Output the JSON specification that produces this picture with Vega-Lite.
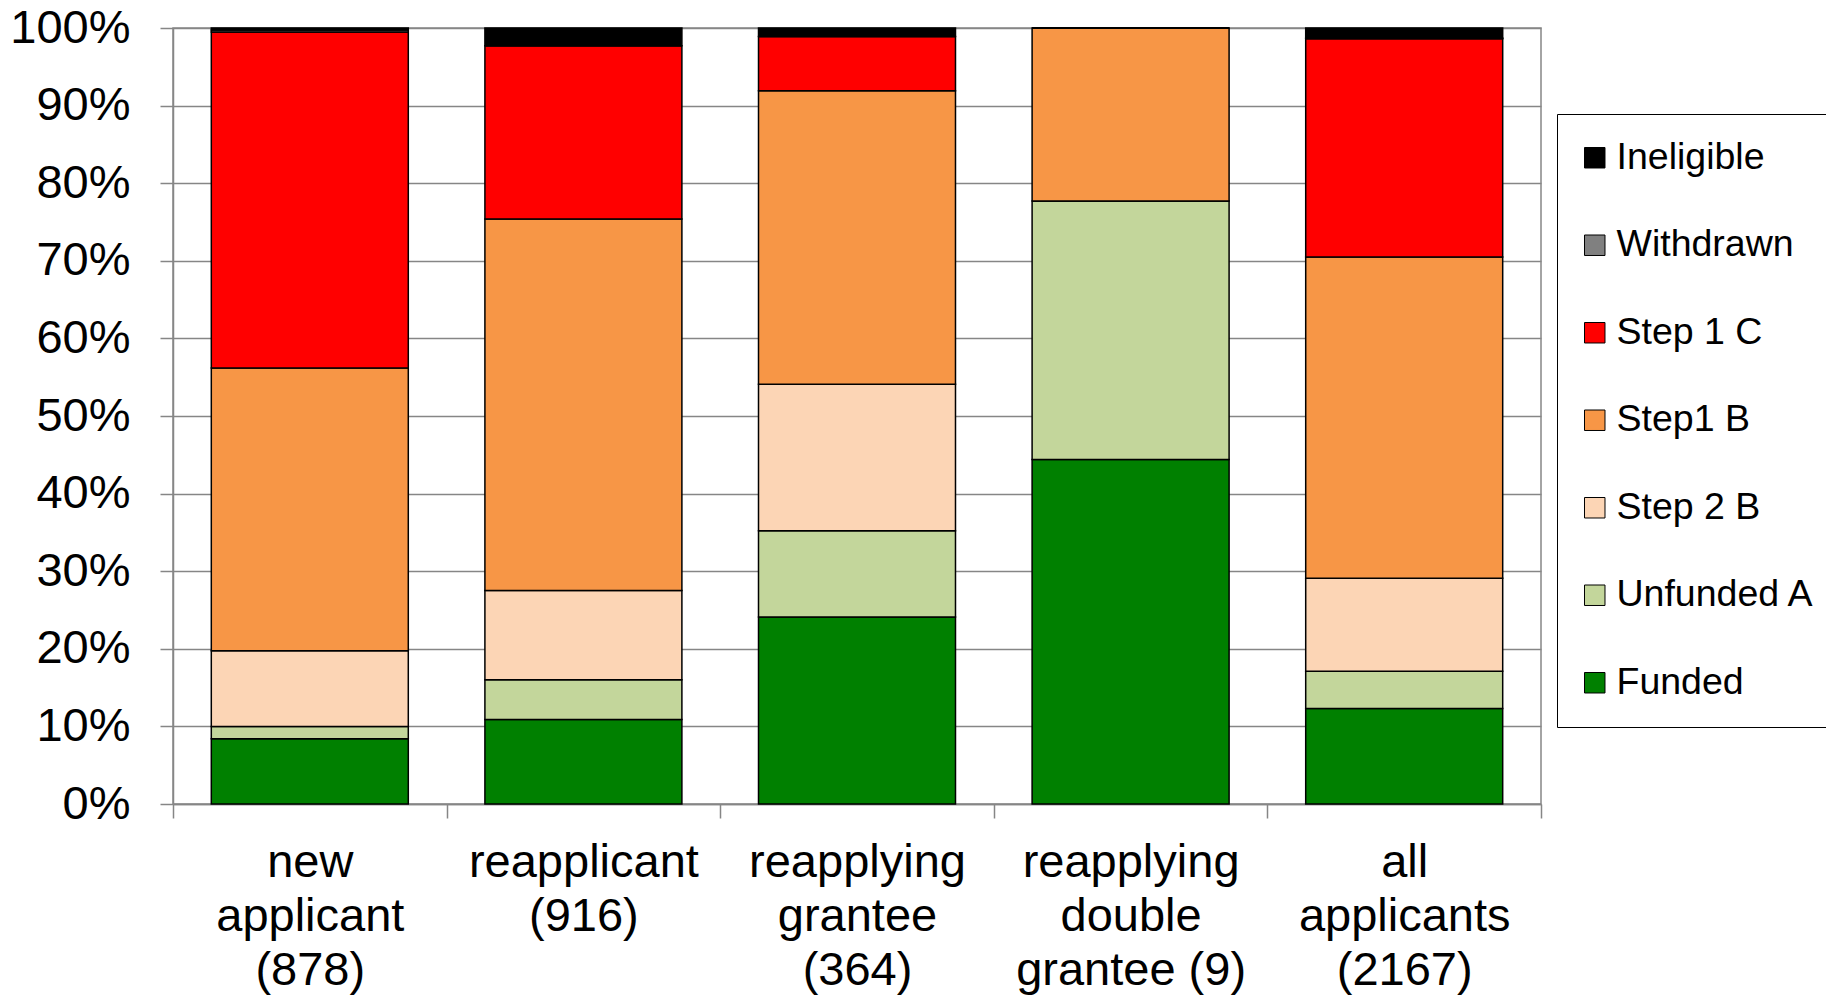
{
  "$schema": "https://vega.github.io/schema/vega-lite/v6.json",
  "width": 1368,
  "height": 776,
  "autosize": {"type": "none"},
  "padding": {"left": 173, "top": 28, "right": 285, "bottom": 193},
  "background": "white",
  "config": {
    "font": "Liberation Sans",
    "view": {"stroke": "#868686", "strokeWidth": 1.5}
  },
  "data": {
    "values": [
      {"group": "new applicant (878)", "status": "Funded", "pct": 8.4},
      {"group": "new applicant (878)", "status": "Unfunded A", "pct": 1.6},
      {"group": "new applicant (878)", "status": "Step 2 B", "pct": 9.75},
      {"group": "new applicant (878)", "status": "Step1 B", "pct": 36.45},
      {"group": "new applicant (878)", "status": "Step 1 C", "pct": 43.3},
      {"group": "new applicant (878)", "status": "Withdrawn", "pct": 0.25},
      {"group": "new applicant (878)", "status": "Ineligible", "pct": 0.25},
      {"group": "reapplicant (916)", "status": "Funded", "pct": 10.9},
      {"group": "reapplicant (916)", "status": "Unfunded A", "pct": 5.1},
      {"group": "reapplicant (916)", "status": "Step 2 B", "pct": 11.5},
      {"group": "reapplicant (916)", "status": "Step1 B", "pct": 47.9},
      {"group": "reapplicant (916)", "status": "Step 1 C", "pct": 22.3},
      {"group": "reapplicant (916)", "status": "Withdrawn", "pct": 0},
      {"group": "reapplicant (916)", "status": "Ineligible", "pct": 2.3},
      {"group": "reapplying grantee (364)", "status": "Funded", "pct": 24.1},
      {"group": "reapplying grantee (364)", "status": "Unfunded A", "pct": 11.1},
      {"group": "reapplying grantee (364)", "status": "Step 2 B", "pct": 18.9},
      {"group": "reapplying grantee (364)", "status": "Step1 B", "pct": 37.8},
      {"group": "reapplying grantee (364)", "status": "Step 1 C", "pct": 7.0},
      {"group": "reapplying grantee (364)", "status": "Withdrawn", "pct": 0},
      {"group": "reapplying grantee (364)", "status": "Ineligible", "pct": 1.1},
      {"group": "reapplying double grantee (9)", "status": "Funded", "pct": 44.4},
      {"group": "reapplying double grantee (9)", "status": "Unfunded A", "pct": 33.3},
      {"group": "reapplying double grantee (9)", "status": "Step 2 B", "pct": 0},
      {"group": "reapplying double grantee (9)", "status": "Step1 B", "pct": 22.3},
      {"group": "reapplying double grantee (9)", "status": "Step 1 C", "pct": 0},
      {"group": "reapplying double grantee (9)", "status": "Withdrawn", "pct": 0},
      {"group": "reapplying double grantee (9)", "status": "Ineligible", "pct": 0},
      {"group": "all applicants (2167)", "status": "Funded", "pct": 12.3},
      {"group": "all applicants (2167)", "status": "Unfunded A", "pct": 4.8},
      {"group": "all applicants (2167)", "status": "Step 2 B", "pct": 12.0},
      {"group": "all applicants (2167)", "status": "Step1 B", "pct": 41.4},
      {"group": "all applicants (2167)", "status": "Step 1 C", "pct": 28.1},
      {"group": "all applicants (2167)", "status": "Withdrawn", "pct": 0.1},
      {"group": "all applicants (2167)", "status": "Ineligible", "pct": 1.3}
    ]
  },
  "transform": [
    {"calculate": "indexof(['Funded','Unfunded A','Step 2 B','Step1 B','Step 1 C','Withdrawn','Ineligible'], datum.status)", "as": "stackorder"}
  ],
  "mark": {"type": "bar", "stroke": "black", "strokeWidth": 1.5, "width": {"band": 0.72}},
  "encoding": {
    "x": {
      "field": "group",
      "type": "nominal",
      "sort": ["new applicant (878)", "reapplicant (916)", "reapplying grantee (364)", "reapplying double grantee (9)", "all applicants (2167)"],
      "scale": {"paddingInner": 0, "paddingOuter": 0},
      "axis": {
        "title": null,
        "labelAngle": 0,
        "labelFontSize": 47,
        "labelColor": "black",
        "labelLineHeight": 54,
        "labelPadding": 21,
        "labelBaseline": "top",
        "labelLimit": 400,
        "tickBand": "extent",
        "tickSize": 14,
        "tickColor": "#868686",
        "tickWidth": 1.5,
        "domainColor": "#868686",
        "domainWidth": 1.5,
        "labelExpr": "datum.value == 'new applicant (878)' ? ['new', 'applicant', '(878)'] : datum.value == 'reapplicant (916)' ? ['reapplicant', '(916)'] : datum.value == 'reapplying grantee (364)' ? ['reapplying', 'grantee', '(364)'] : datum.value == 'reapplying double grantee (9)' ? ['reapplying', 'double', 'grantee (9)'] : datum.value == 'all applicants (2167)' ? ['all', 'applicants', '(2167)'] : ''"
      }
    },
    "y": {
      "field": "pct",
      "type": "quantitative",
      "stack": "normalize",
      "scale": {"domain": [0, 1], "nice": false},
      "axis": {
        "title": null,
        "format": ".0%",
        "values": [0, 0.1, 0.2, 0.3, 0.4, 0.5, 0.6, 0.7, 0.8, 0.9, 1],
        "labelFontSize": 47,
        "labelColor": "black",
        "labelPadding": 30,
        "tickSize": 13,
        "tickColor": "#868686",
        "tickWidth": 1.5,
        "domainColor": "#868686",
        "domainWidth": 1.5,
        "grid": true,
        "gridColor": "#868686",
        "gridWidth": 1.5
      }
    },
    "color": {
      "field": "status",
      "type": "nominal",
      "sort": ["Ineligible", "Withdrawn", "Step 1 C", "Step1 B", "Step 2 B", "Unfunded A", "Funded"],
      "scale": {
        "domain": ["Ineligible", "Withdrawn", "Step 1 C", "Step1 B", "Step 2 B", "Unfunded A", "Funded"],
        "range": ["#000000", "#808080", "#FF0000", "#F79646", "#FCD5B5", "#C3D69B", "#008000"]
      },
      "legend": {
        "title": null,
        "orient": "none",
        "legendX": 1384,
        "legendY": 86,
        "padding": 25,
        "strokeColor": "black",
        "fillColor": "white",
        "symbolType": "square",
        "symbolSize": 420,
        "symbolStrokeColor": "black",
        "symbolStrokeWidth": 1,
        "symbolOpacity": 1,
        "symbolOffset": -6,
        "labelFontSize": 37.5,
        "labelColor": "black",
        "labelOffset": 3,
        "labelLimit": 400,
        "rowPadding": 48.5
      }
    },
    "order": {"field": "stackorder", "type": "quantitative"}
  }
}
